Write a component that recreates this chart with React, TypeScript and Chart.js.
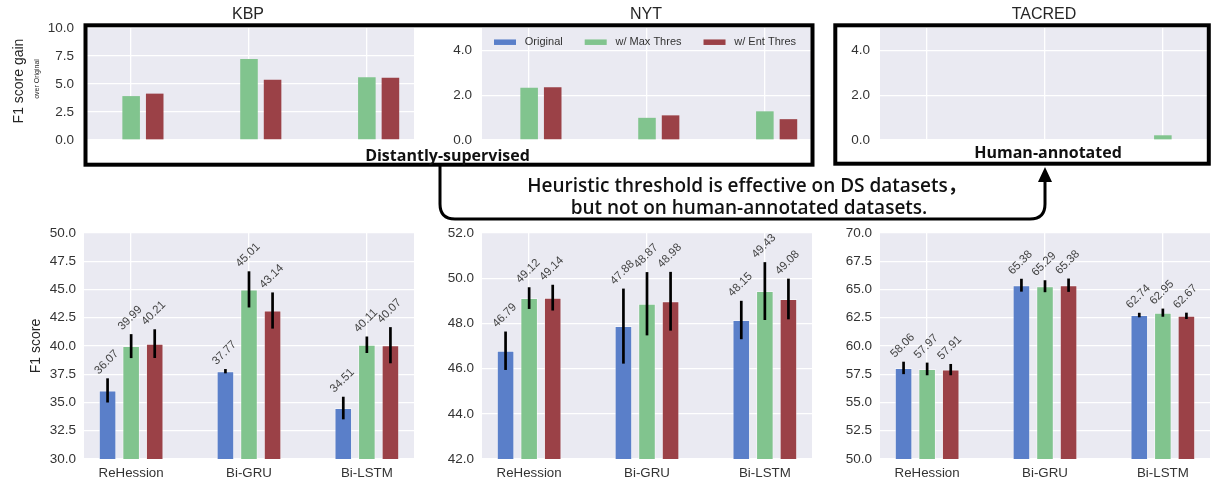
import React, { useEffect, useRef } from "react";
import { Chart, registerables } from "chart.js";

Chart.register(...registerables);

// ---------- data ----------
const CATEGORIES = ["ReHession", "Bi-GRU", "Bi-LSTM"];
const SERIES = ["Original", "w/ Max Thres", "w/ Ent Thres"];
const COLORS = ["#5a7fc9", "#81c48e", "#9b4147"];

// F1 scores (bottom row)
const KBP_ORIGINAL = [36.07, 37.77, 34.51];
const KBP_MAX = [39.99, 45.01, 40.11];
const KBP_ENT = [40.21, 43.14, 40.07];
const KBP_ORIGINAL_ERR = [1.07, 0.19, 1.0];
const KBP_MAX_ERR = [1.06, 1.6, 0.73];
const KBP_ENT_ERR = [1.27, 1.6, 1.6];

const NYT_ORIGINAL = [46.79, 47.88, 48.15];
const NYT_MAX = [49.12, 48.87, 49.43];
const NYT_ENT = [49.14, 48.98, 49.08];
const NYT_ORIGINAL_ERR = [0.85, 1.66, 0.85];
const NYT_MAX_ERR = [0.48, 1.4, 1.28];
const NYT_ENT_ERR = [0.57, 1.3, 0.9];

const TACRED_ORIGINAL = [58.06, 65.38, 62.74];
const TACRED_MAX = [57.97, 65.29, 62.95];
const TACRED_ENT = [57.91, 65.38, 62.67];
const TACRED_ORIGINAL_ERR = [0.55, 0.57, 0.2];
const TACRED_MAX_ERR = [0.56, 0.53, 0.36];
const TACRED_ENT_ERR = [0.5, 0.59, 0.28];

// F1 gain over Original (top row)
const KBP_GAIN_ORIGINAL = [0, 0, 0];
const KBP_GAIN_MAX = [3.92, 7.24, 5.6];
const KBP_GAIN_ENT = [4.14, 5.37, 5.56];
const NYT_GAIN_ORIGINAL = [0, 0, 0];
const NYT_GAIN_MAX = [2.33, 0.99, 1.28];
const NYT_GAIN_ENT = [2.35, 1.1, 0.93];
const TACRED_GAIN_ORIGINAL = [0, 0, 0];
const TACRED_GAIN_MAX = [-0.09, -0.09, 0.21];
const TACRED_GAIN_ENT = [-0.15, 0.0, -0.07];

// tick values
const KBP_GAIN_TICKS = [0, 2.5, 5, 7.5, 10];
const NYT_GAIN_TICKS = [0, 2, 4];
const TACRED_GAIN_TICKS = [0, 2, 4];
const KBP_TICKS = [30, 32.5, 35, 37.5, 40, 42.5, 45, 47.5, 50];
const NYT_TICKS = [42, 44, 46, 48, 50, 52];
const TACRED_TICKS = [50, 52.5, 55, 57.5, 60, 62.5, 65, 67.5, 70];

const KBP_GAIN_RANGE = [0, 10];
const NYT_GAIN_RANGE = [0, 5];
const TACRED_GAIN_RANGE = [0, 5];
const KBP_RANGE = [30, 50];
const NYT_RANGE = [42, 52];
const TACRED_RANGE = [50, 70];

const TITLES = ["KBP", "NYT", "TACRED"];

// ---------- layout ----------
const FONT = "'Liberation Sans', Arial, sans-serif";
const ANNOT_FONT = "'Open Sans', 'Noto Sans CJK SC', sans-serif";
const COL_LEFT = [84, 482, 880];
const PLOT_W = 330;
const Y_AXIS_W = 60;
const PAD_RIGHT = 6;
const ROWS = [
  { plotTop: 27.5, padTop: 22, plotH: 112.5, xAxisH: 22, tickPad: 10 },
  { plotTop: 233, padTop: 22, plotH: 226, xAxisH: 22, tickPad: 8 },
];

type PanelDef = {
  row: number;
  col: number;
  series: number[][];
  errors?: number[][];
  ticks: number[];
  range: number[];
  legend?: boolean;
};

const PANELS: PanelDef[] = [
  { row: 0, col: 0, series: [KBP_GAIN_ORIGINAL, KBP_GAIN_MAX, KBP_GAIN_ENT], ticks: KBP_GAIN_TICKS, range: KBP_GAIN_RANGE },
  { row: 0, col: 1, series: [NYT_GAIN_ORIGINAL, NYT_GAIN_MAX, NYT_GAIN_ENT], ticks: NYT_GAIN_TICKS, range: NYT_GAIN_RANGE, legend: true },
  { row: 0, col: 2, series: [TACRED_GAIN_ORIGINAL, TACRED_GAIN_MAX, TACRED_GAIN_ENT], ticks: TACRED_GAIN_TICKS, range: TACRED_GAIN_RANGE },
  { row: 1, col: 0, series: [KBP_ORIGINAL, KBP_MAX, KBP_ENT], errors: [KBP_ORIGINAL_ERR, KBP_MAX_ERR, KBP_ENT_ERR], ticks: KBP_TICKS, range: KBP_RANGE },
  { row: 1, col: 1, series: [NYT_ORIGINAL, NYT_MAX, NYT_ENT], errors: [NYT_ORIGINAL_ERR, NYT_MAX_ERR, NYT_ENT_ERR], ticks: NYT_TICKS, range: NYT_RANGE },
  { row: 1, col: 2, series: [TACRED_ORIGINAL, TACRED_MAX, TACRED_ENT], errors: [TACRED_ORIGINAL_ERR, TACRED_MAX_ERR, TACRED_ENT_ERR], ticks: TACRED_TICKS, range: TACRED_RANGE },
];

// ---------- plugins ----------
const bgPlugin = {
  id: "bgArea",
  beforeDraw(chart: any) {
    const { ctx, chartArea } = chart;
    ctx.save();
    ctx.fillStyle = "#eaeaf2";
    ctx.fillRect(chartArea.left, chartArea.top, chartArea.right - chartArea.left, chartArea.bottom - chartArea.top);
    ctx.restore();
  },
};

function makeErrorPlugin(errors?: number[][]) {
  return {
    id: "errorBars",
    afterDatasetsDraw(chart: any) {
      if (!errors) return;
      const { ctx } = chart;
      const yScale = chart.scales.y;
      ctx.save();
      chart.data.datasets.forEach((ds: any, i: number) => {
        const meta = chart.getDatasetMeta(i);
        meta.data.forEach((el: any, j: number) => {
          const v = ds.data[j];
          const e = errors[i][j];
          const yTop = yScale.getPixelForValue(v + e);
          const yBot = yScale.getPixelForValue(v - e);
          ctx.strokeStyle = "#000";
          ctx.lineWidth = 2.7;
          ctx.beginPath();
          ctx.moveTo(el.x, yTop);
          ctx.lineTo(el.x, yBot);
          ctx.stroke();
          // value label rotated 45 degrees
          const text = Number(v).toFixed(2);
          const fs = 11.5;
          ctx.font = `${fs}px ${FONT}`;
          const w = ctx.measureText(text).width;
          const half = (w + fs * 0.72) * 0.3536;
          const cy = yTop - 3 - half;
          ctx.save();
          ctx.translate(el.x - 1, cy);
          ctx.rotate(-Math.PI / 4);
          ctx.fillStyle = "#444";
          ctx.textAlign = "center";
          ctx.textBaseline = "middle";
          ctx.fillText(text, 0, 0);
          ctx.restore();
        });
      });
      ctx.restore();
    },
  };
}

function makeLegendPlugin(show?: boolean) {
  return {
    id: "innerLegend",
    afterDraw(chart: any) {
      if (!show) return;
      const { ctx, chartArea } = chart;
      const fs = 11;
      let x = chartArea.left + 12;
      const yc = chartArea.top + 14.2;
      ctx.save();
      ctx.font = `${fs}px ${FONT}`;
      ctx.textBaseline = "middle";
      ctx.textAlign = "left";
      chart.data.datasets.forEach((ds: any) => {
        ctx.fillStyle = ds.backgroundColor;
        ctx.fillRect(x, yc - 2.75, 22, 5.5);
        ctx.fillStyle = "#333";
        ctx.fillText(ds.label, x + 22 + 8.8, yc);
        x += 22 + 8.8 + ctx.measureText(ds.label).width + 22;
      });
      ctx.restore();
    },
  };
}

// ---------- chart panel ----------
function Panel({ def }: { def: PanelDef }) {
  const ref = useRef<HTMLCanvasElement | null>(null);
  const row = ROWS[def.row];
  const width = Y_AXIS_W + PLOT_W + PAD_RIGHT;
  const height = row.padTop + row.plotH + row.xAxisH;
  const left = COL_LEFT[def.col] - Y_AXIS_W;
  const top = row.plotTop - row.padTop;
  const showX = def.row === 1;

  useEffect(() => {
    if (!ref.current) return;
    const chart = new Chart(ref.current, {
      type: "bar",
      data: {
        labels: CATEGORIES.map((_, i) => i),
        datasets: def.series.map((vals, i) => ({
          label: SERIES[i],
          data: vals,
          backgroundColor: COLORS[i],
          borderColor: "rgba(255,255,255,0.45)",
          borderWidth: showX ? 1 : 0,
          categoryPercentage: 0.6,
          barPercentage: 0.745,
          clip: 0,
        })),
      },
      options: {
        animation: false,
        responsive: false,
        maintainAspectRatio: false,
        events: [],
        layout: { padding: { top: row.padTop, left: 0, right: PAD_RIGHT, bottom: 0 } },
        plugins: { legend: { display: false }, tooltip: { enabled: false }, title: { display: false } },
        scales: {
          x: {
            type: "linear",
            offset: false,
            min: -0.4,
            max: 2.4,
            afterBuildTicks: (s: any) => {
              s.ticks = CATEGORIES.map((_, i) => ({ value: i }));
            },
            afterFit: (s: any) => {
              s.height = row.xAxisH;
            },
            grid: { color: "#ffffff", lineWidth: 1.3, drawTicks: false, offset: false },
            border: { display: false },
            ticks: {
              display: showX,
              padding: 6,
              autoSkip: false,
              maxRotation: 0,
              color: "#333",
              font: { family: FONT, size: 13.3 },
              callback: (v: any) => CATEGORIES[Math.round(Number(v))],
            },
          },
          y: {
            min: def.range[0],
            max: def.range[1],
            afterBuildTicks: (s: any) => {
              s.ticks = def.ticks.map((v) => ({ value: v }));
            },
            afterFit: (s: any) => {
              s.width = Y_AXIS_W;
            },
            grid: { color: "#ffffff", lineWidth: 1.3, drawTicks: false },
            border: { display: false },
            ticks: {
              padding: row.tickPad,
              color: "#333",
              font: { family: FONT, size: 13.5 },
              callback: (v: any) => Number(v).toFixed(1),
            },
          },
        },
      } as any,
      plugins: [bgPlugin, makeErrorPlugin(def.errors), makeLegendPlugin(def.legend)],
    });
    return () => chart.destroy();
  }, []);

  return (
    <canvas
      ref={ref}
      width={width}
      height={height}
      style={{ position: "absolute", left, top, width, height }}
    />
  );
}

function Label({ x, y, text, size, weight = 400, rotate = 0, family = FONT, color = "#262626" }: any) {
  return (
    <div
      style={{
        position: "absolute",
        left: x,
        top: y,
        transform: `translate(-50%, -50%) rotate(${rotate}deg)`,
        whiteSpace: "nowrap",
        fontFamily: family,
        fontSize: size,
        fontWeight: weight,
        color,
        lineHeight: 1,
        zIndex: 3,
      }}
    >
      {text}
    </div>
  );
}

export default function App() {
  useEffect(() => {
    document.body.style.margin = "0";
  }, []);
  return (
    <div style={{ position: "absolute", left: 0, top: 0, width: 1212, height: 481, background: "#fff", overflow: "hidden" }}>
      {PANELS.map((p, i) => (
        <Panel key={i} def={p} />
      ))}
      {TITLES.map((t, i) => (
        <Label key={t} x={COL_LEFT[i] + PLOT_W / 2 - 1} y={14} text={t} size={16} />
      ))}
      <Label x={17.5} y={81} text="F1 score gain" size={14} rotate={-90} />
      <Label x={36} y={79} text="over Original" size={7} rotate={-90} />
      <Label x={34.5} y={346} text="F1 score" size={14} rotate={-90} />

      <svg width={1212} height={481} style={{ position: "absolute", left: 0, top: 0, zIndex: 2, pointerEvents: "none" }}>
        <rect x={85.5} y={25.3} width={727} height={139.4} fill="none" stroke="#000" strokeWidth={4} />
        <rect x={835.3} y={25.3} width={373.5} height={138.4} fill="none" stroke="#000" strokeWidth={4} />
        <path d="M 440 166 L 440 204 Q 440 219 455 219 L 1030 219 Q 1045 219 1045 204 L 1045 180" fill="none" stroke="#000" strokeWidth={3} />
        <polygon points="1045,167 1038,182 1052,182" fill="#000" />
      </svg>

      <Label x={447.5} y={155} text="Distantly-supervised" size={16} weight={700} family={ANNOT_FONT} color="#111" />
      <Label x={1048} y={151.5} text="Human-annotated" size={16} weight={700} family={ANNOT_FONT} color="#111" />
      <Label x={747} y={185} text="Heuristic threshold is effective on DS datasets，" size={19} weight={600} family={ANNOT_FONT} color="#111" />
      <Label x={749} y={206.5} text="but not on human-annotated datasets." size={19} weight={600} family={ANNOT_FONT} color="#111" />
    </div>
  );
}
